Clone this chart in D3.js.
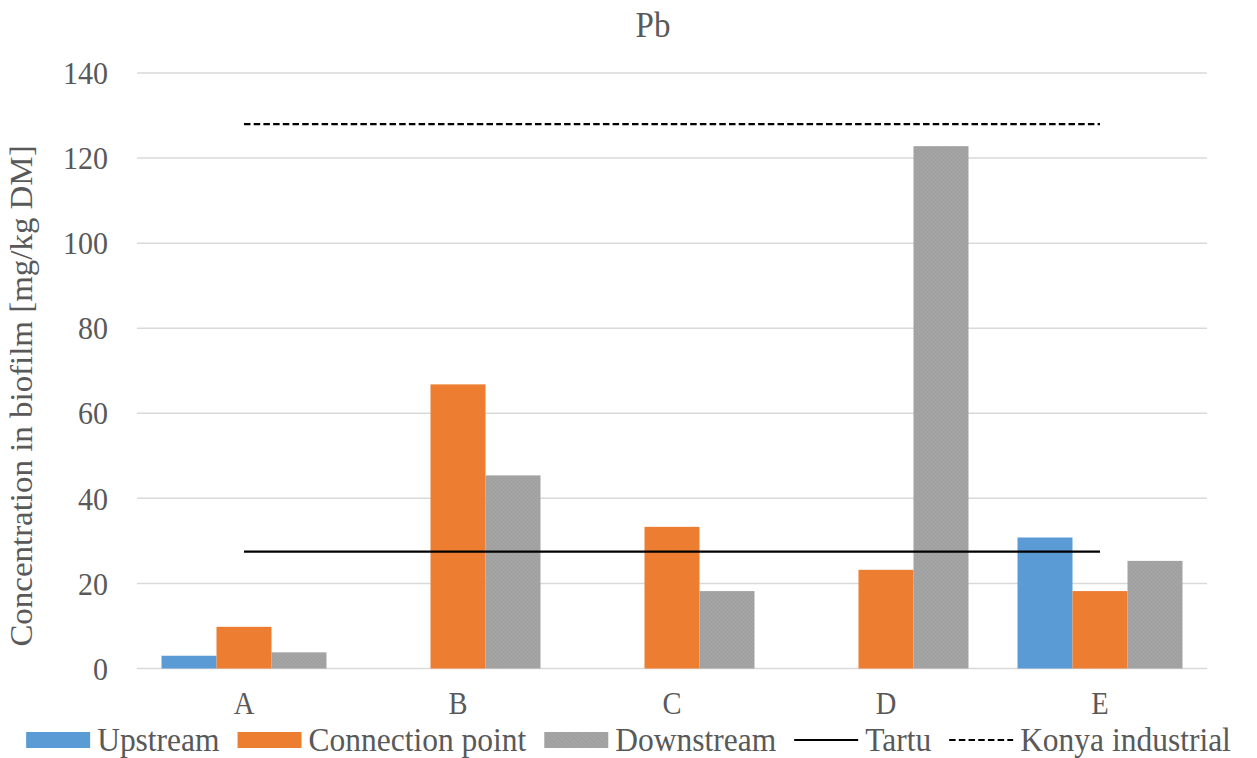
<!DOCTYPE html>
<html>
<head>
<meta charset="utf-8">
<script src="https://cdn.jsdelivr.net/npm/d3@7/dist/d3.min.js"></script>
<style>
  html, body { margin: 0; padding: 0; background: #fff; }
</style>
</head>
<body>
<svg id="chart" width="1257" height="758"></svg>
<script>
// Pb concentration in biofilm per site
const categories = ["A", "B", "C", "D", "E"];
const seriesNames = ["Upstream", "Connection point", "Downstream"];
const upstream = [3.0, 0, 0, 0, 30.8];
const connectionPoint = [9.8, 66.8, 33.3, 23.2, 18.2];
const downstream = [3.8, 45.4, 18.2, 122.8, 25.3];
const tartuValue = 27.5;
const konyaValue = 128;
const yTicks = [0, 20, 40, 60, 80, 100, 120, 140];
const colors = ["#5b9bd5", "#ed7d31", "#a5a5a5"];

const FONT = '"Liberation Serif", "Times New Roman", serif';
const TEXT_COLOR = "#595959";
const STRETCH = 1.08; // glyphs are drawn slightly taller than wide

const seriesValues = [upstream, connectionPoint, downstream];
const rows = categories.map((c, i) => ({
  cat: c,
  vals: seriesNames.map((s, k) => ({ key: s, value: seriesValues[k][i], k }))
}));

const svg = d3.select("#chart");
const plotLeft = 137, plotRight = 1207, plotTop = 73, plotBottom = 668.5;

// fine grain texture for the grey series
const defs = svg.append("defs");
const pat = defs.append("pattern").attr("id", "greyGrain")
  .attr("patternUnits", "userSpaceOnUse").attr("width", 4).attr("height", 4);
pat.append("rect").attr("width", 4).attr("height", 4).attr("fill", "#a6a6a6");
[[0, 0], [2, 1], [1, 2], [3, 3]].forEach(([px, py]) =>
  pat.append("rect").attr("x", px).attr("y", py).attr("width", 1).attr("height", 1).attr("fill", "#989898"));
const fills = [colors[0], colors[1], "url(#greyGrain)"];

const x0 = d3.scaleBand().domain(categories).range([plotLeft, plotRight])
  .paddingInner(0.229).paddingOuter(0.1145);
const x1 = d3.scaleBand().domain(seriesNames).range([0, x0.bandwidth()]);
const y = d3.scaleLinear().domain([0, 140]).range([plotBottom, plotTop]);

function styleText(sel, size) {
  sel.style("font-family", FONT).attr("font-size", size).attr("fill", TEXT_COLOR);
}

// gridlines
svg.append("g").selectAll("line").data(yTicks).join("line")
  .attr("x1", plotLeft).attr("x2", plotRight)
  .attr("y1", d => y(d)).attr("y2", d => y(d))
  .attr("stroke", "#d9d9d9").attr("stroke-width", 1.5);

// y tick labels
const yAxis = d3.axisLeft(y).tickValues(yTicks).tickSize(0).tickPadding(0);
const gy = svg.append("g").attr("transform", "translate(108,0)").call(yAxis);
gy.select(".domain").remove();
gy.selectAll("text").call(styleText, 30)
  .attr("x", 0).attr("dy", "0.33em").attr("transform", `scale(1,${STRETCH})`);

// bars
svg.append("g").selectAll("g").data(rows).join("g")
  .attr("transform", d => `translate(${x0(d.cat)},0)`)
  .selectAll("rect").data(d => d.vals).join("rect")
  .attr("x", d => x1(d.key))
  .attr("width", x1.bandwidth())
  .attr("y", d => y(d.value))
  .attr("height", d => y(0) - y(d.value))
  .attr("fill", d => fills[d.k]);

// reference lines between the first and last category centres
const xStart = x0(categories[0]) + x0.bandwidth() / 2;
const xEnd = x0(categories[categories.length - 1]) + x0.bandwidth() / 2;
svg.append("line")
  .attr("x1", xStart).attr("x2", xEnd)
  .attr("y1", y(tartuValue)).attr("y2", y(tartuValue))
  .attr("stroke", "#000").attr("stroke-width", 2.2);
svg.append("line")
  .attr("x1", xStart).attr("x2", xEnd)
  .attr("y1", y(konyaValue)).attr("y2", y(konyaValue))
  .attr("stroke", "#000").attr("stroke-width", 2.2)
  .attr("stroke-dasharray", "6.5,3.2");

// category labels
const xAxis = d3.axisBottom(x0).tickSize(0).tickPadding(0);
const gx = svg.append("g").attr("transform", "translate(0,713.5)").call(xAxis);
gx.select(".domain").remove();
gx.selectAll("text").call(styleText, 28.5)
  .attr("dy", 0).attr("y", 0).attr("transform", `scale(1,${STRETCH})`);

// title
svg.append("text")
  .attr("transform", `translate(653,37) scale(1,${STRETCH})`)
  .attr("text-anchor", "middle").call(styleText, 33).text("Pb");

// y-axis title
svg.append("text")
  .attr("transform", `translate(32,396) scale(1,${STRETCH}) rotate(-90)`)
  .attr("text-anchor", "middle").call(styleText, 30.5)
  .text("Concentration in biofilm [mg/kg DM]");

// legend
const legendItems = [
  { label: "Upstream", type: "rect", fill: fills[0] },
  { label: "Connection point", type: "rect", fill: fills[1] },
  { label: "Downstream", type: "rect", fill: fills[2] },
  { label: "Tartu", type: "line" },
  { label: "Konya industrial", type: "dash" }
];
const legend = svg.append("g");
const legendY = 740;
let cx = 0;
const swW = 64, swGap = 7, itemGap = 18;
legendItems.forEach(it => {
  const g = legend.append("g").attr("transform", `translate(${cx},0)`);
  if (it.type === "rect") {
    g.append("rect").attr("x", 0).attr("y", legendY - 8).attr("width", swW).attr("height", 16)
      .attr("fill", it.fill);
  } else {
    g.append("line").attr("x1", 0).attr("x2", swW).attr("y1", legendY).attr("y2", legendY)
      .attr("stroke", "#000").attr("stroke-width", 2.2)
      .attr("stroke-dasharray", it.type === "dash" ? "6.5,3.2" : null);
  }
  const t = g.append("text")
    .attr("transform", `translate(${swW + swGap},${legendY + 10.5}) scale(1,${STRETCH})`)
    .call(styleText, 31.5).text(it.label);
  cx += swW + swGap + t.node().getComputedTextLength() + itemGap;
});
const legendWidth = cx - itemGap;
legend.attr("transform", `translate(${(17 + 1240) / 2 - legendWidth / 2},0)`);
</script>
</body>
</html>
